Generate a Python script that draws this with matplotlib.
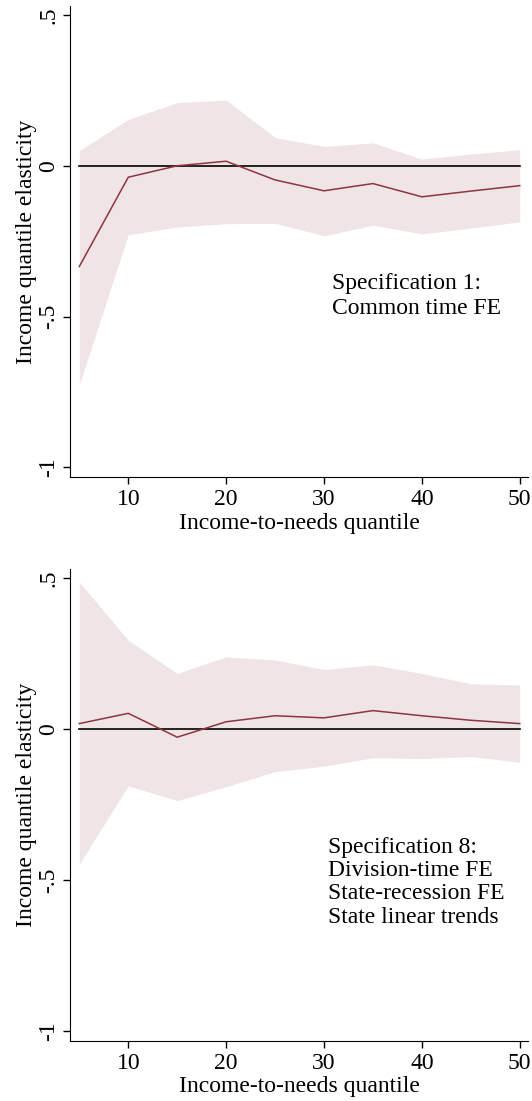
import numpy as np
import matplotlib
matplotlib.use("Agg")
import matplotlib.pyplot as plt

plt.rcParams['font.family'] = ['Liberation Serif', 'DejaVu Serif']

quantile = [5, 10, 15, 20, 25, 30, 35, 40, 45, 50]

# specification 1
est1 = [-0.334, -0.038, 0.000, 0.015, -0.047, -0.083, -0.059, -0.103, -0.084, -0.066]
hi1 = [0.050, 0.154, 0.209, 0.218, 0.094, 0.064, 0.076, 0.022, 0.039, 0.053]
lo1 = [-0.726, -0.229, -0.203, -0.192, -0.191, -0.232, -0.197, -0.226, -0.207, -0.186]

# specification 8
est8 = [0.019, 0.053, -0.026, 0.025, 0.045, 0.038, 0.062, 0.045, 0.030, 0.019]
hi8 = [0.488, 0.295, 0.185, 0.240, 0.230, 0.198, 0.214, 0.185, 0.151, 0.147]
lo8 = [-0.446, -0.187, -0.236, -0.190, -0.140, -0.122, -0.094, -0.097, -0.090, -0.109]

note1 = "Specification 1:\nCommon time FE"
note8 = "Specification 8:\nDivision-time FE\nState-recession FE\nState linear trends"

line_col = "#8f3440"
band_col = "#efe4e6"

fig = plt.figure(figsize=(5.32, 11.01), dpi=100)
ax1 = fig.add_axes([0.132, 0.5668, 0.861, 0.4278])
ax2 = fig.add_axes([0.132, 0.0546, 0.861, 0.4283])

panels = [(ax1, est1, hi1, lo1, note1, 30.78, 1.25),
          (ax2, est8, hi8, lo8, note8, 30.43, 1.15)]
for ax, est, hi, lo, note, tx, ls in panels:
    ax.fill_between(quantile, lo, hi, color=band_col, linewidth=0)
    ax.plot([quantile[0], quantile[-1]], [0, 0], color="black", lw=1.2)
    ax.plot(quantile, est, color=line_col, lw=1.1)
    ax.set_xlim(4.07, 50.87)
    ax.set_ylim(-1.032, 0.53)
    ax.set_xticks([10, 20, 30, 40, 50])
    ax.set_yticks([-1, -0.5, 0, 0.5])
    ax.set_yticklabels(["-1", "-.5", "0", ".5"], rotation=90, va="center")
    ax.tick_params(labelsize=17, length=5, width=1, colors="black")
    ax.tick_params(axis="y", pad=3)
    ax.spines["top"].set_visible(False)
    ax.spines["right"].set_visible(False)
    ax.set_xlabel("Income-to-needs quantile", fontsize=17, labelpad=2)
    ax.set_ylabel("Income quantile elasticity", fontsize=17, labelpad=1)
    ax.text(tx, -0.355, note, fontsize=17, va="top", ha="left", linespacing=ls)

fig.savefig("out.png", dpi=100)
